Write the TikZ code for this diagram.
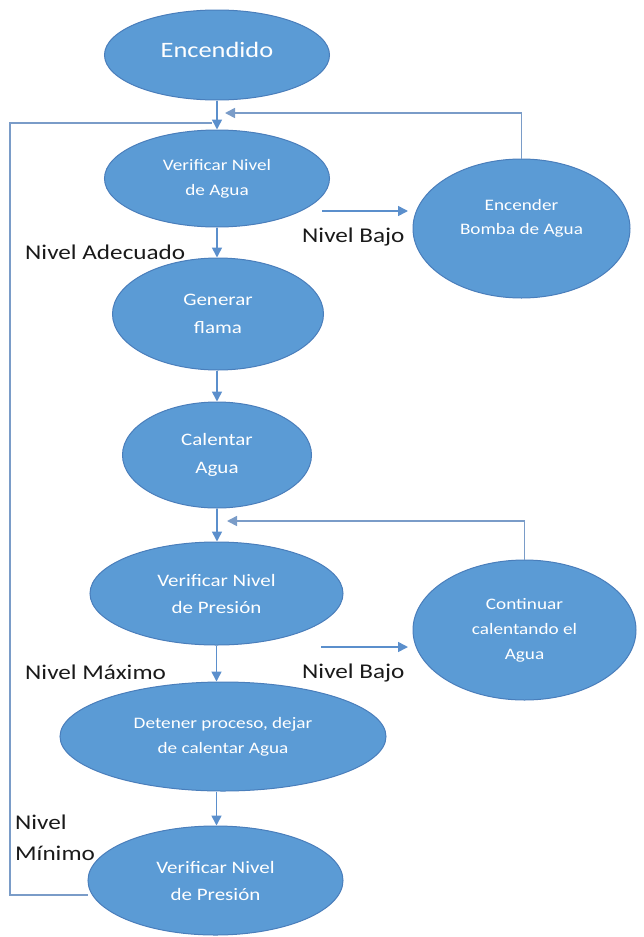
\documentclass[tikz,border=0pt]{standalone}
\usepackage{fontspec}
\newfontfamily\calfont{Carlito}[FakeStretch=1.2]
\usetikzlibrary{shapes.geometric,arrows.meta,calc}
\definecolor{fillblue}{HTML}{5B9BD5}
\definecolor{edgeblue}{HTML}{4A7EBB}
\definecolor{linkblue}{HTML}{5B8FCC}
\definecolor{loopblue}{HTML}{7A9CC8}
\definecolor{lbltext}{HTML}{1A1A1A}
\begin{document}
\begin{tikzpicture}[x=1pt,y=-1pt,
  state/.style={ellipse, fill=fillblue, draw=edgeblue, line width=1pt,
    text=white, align=center, inner sep=0pt},
  small/.style={font=\calfont\fontsize{16}{25}\selectfont},
  large/.style={font=\calfont\fontsize{17.5}{27}\selectfont},
  flow/.style={draw=linkblue, line width=1.6pt,
    -{Triangle[width=10pt,length=10pt]}},
  loopline/.style={draw=loopblue, line width=1.6pt},
  looparrow/.style={draw=loopblue, line width=1.6pt,
    -{Triangle[width=10pt,length=10pt]}},
  lbl/.style={font=\calfont\fontsize{21}{31}\selectfont, inner sep=0pt,
    text=lbltext, anchor=west}]
\useasboundingbox (0,0) rectangle (644,937);

% states
\node[state, minimum width=225pt, minimum height=90pt,
  font=\calfont\fontsize{22}{27}\selectfont, text depth=10pt] (enc) at (217,55) {Encendido};
\node[state, small, minimum width=225pt, minimum height=97pt] (vna) at (217,178.5)
  {Verificar Nivel\\de Agua};
\node[state, minimum width=217pt, minimum height=139pt,
  font=\calfont\fontsize{16}{24}\selectfont] (bomba) at (521.5,228.5)
  {Encender\\Bomba de Agua\\\mbox{}};
\node[state, minimum width=211pt, minimum height=112pt,
  font=\calfont\fontsize{17.5}{28.5}\selectfont] (gen) at (218,314)
  {Generar\\flama};
\node[state, minimum width=189pt, minimum height=106pt,
  font=\calfont\fontsize{17.5}{28}\selectfont] (cal) at (217,455)
  {Calentar\\Agua};
\node[state, large, minimum width=253pt, minimum height=103pt] (vnp1) at (216.5,593.5)
  {Verificar Nivel\\de Presión};
\node[state, small, minimum width=223pt, minimum height=140pt] (cont) at (524.5,630)
  {Continuar\\calentando el\\Agua};
\node[state, small, minimum width=326pt, minimum height=109pt] (det) at (223,736.5)
  {Detener proceso, dejar\\de calentar Agua};
\node[state, large, minimum width=255pt, minimum height=109pt] (vnp2) at (215.5,880.5)
  {Verificar Nivel\\de Presión};

% labels
\node[lbl] (ladec) at (25,252) {Nivel Adecuado};
\node[lbl] (lbajoA) at (302,237) {Nivel Bajo};
\node[lbl] (lmax) at (25,672) {Nivel Máximo};
\node[lbl] (lbajoB) at (302,673) {Nivel Bajo};
\node[lbl, align=left] (lmin) at (15,837.5) {Nivel\\Mínimo};

% main flow
\draw[flow] (enc.south) -- (enc.south |- vna.north);
\draw[flow] (vna.south) -- (vna.south |- gen.north);
\draw[flow] (gen.south -| vna.south) -- (vna.south |- cal.north);
\draw[flow] (cal.south) -- (cal.south |- vnp1.north);
\draw[flow] (vnp1.south) -- (vnp1.south |- det.north);
\draw[flow] (vnp1.south |- det.south) -- (vnp1.south |- vnp2.north);

% side branches
\coordinate (bAs) at (322,211);
\coordinate (bAe) at (408,211);
\draw[flow] (bAs) -- (bAe);
\coordinate (bBs) at (321,647);
\coordinate (bBe) at (408,647);
\draw[flow] (bBs) -- (bBe);

% return loops
\coordinate (retA) at (225,113);
\draw[looparrow] (bomba.north) |- (retA);
\coordinate (retB) at (227,521);
\draw[looparrow] (cont.north) |- (retB);

\coordinate (minS) at ($(vnp2.west)+(0,14.5)$);
\coordinate (minC1) at (10,895);
\coordinate (minC2) at (10,123);
\coordinate (minE) at (212,123);
\draw[loopline] (minS) -- (minC1) -- (minC2) -- (minE);
\end{tikzpicture}
\end{document}
